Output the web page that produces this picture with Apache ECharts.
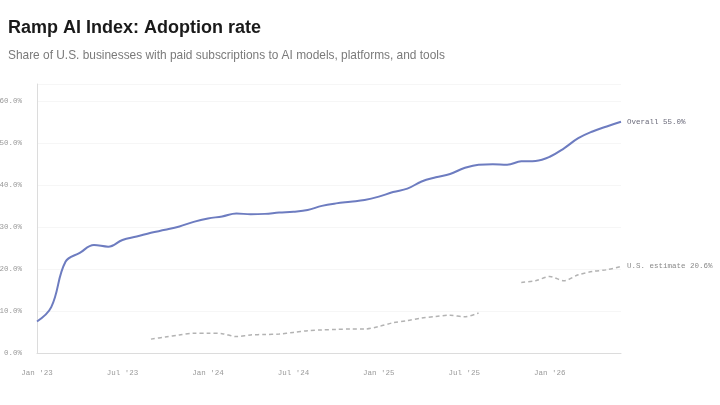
<!DOCTYPE html>
<html>
<head>
<meta charset="utf-8">
<script src="https://cdn.jsdelivr.net/npm/echarts@6/dist/echarts.min.js"></script>
<style>
  html, body { margin: 0; padding: 0; background: #fff; }
  #main { width: 720px; height: 405px; }
</style>
</head>
<body>
<div id="main"></div>
<script>
var months = [
	"Jan '23","Feb '23","Mar '23","Apr '23","May '23","Jun '23","Jul '23","Aug '23","Sep '23","Oct '23","Nov '23","Dec '23",
	"Jan '24","Feb '24","Mar '24","Apr '24","May '24","Jun '24","Jul '24","Aug '24","Sep '24","Oct '24","Nov '24","Dec '24",
	"Jan '25","Feb '25","Mar '25","Apr '25","May '25","Jun '25","Jul '25","Aug '25","Sep '25","Oct '25","Nov '25","Dec '25",
	"Jan '26","Feb '26","Mar '26","Apr '26","May '26","Jun '26"
];
// overall adoption, % of businesses
var overall = [
	7.5, 10.9, 21.7, 23.8, 25.7, 25.3, 26.9, 27.7, 28.6, 29.3, 30.1, 31.2,
	32.0, 32.5, 33.2, 33.0, 33.1, 33.4, 33.6, 34.0, 35.0, 35.6, 36.0, 36.4,
	37.2, 38.3, 39.1, 40.8, 41.8, 42.6, 44.0, 44.8, 44.9, 44.8, 45.6, 45.7,
	46.7, 48.7, 51.1, 52.7, 53.9, 55.0
];
// U.S. estimate (dashed), gaps where no figure
var usEstimate = [
	null, null, null, null, null, null, null, null, 3.3, 3.8, 4.3, 4.7,
	4.7, 4.6, 3.9, 4.3, 4.4, 4.5, 4.9, 5.3, 5.5, 5.6, 5.7, 5.7,
	6.3, 7.2, 7.7, 8.3, 8.7, 9.0, 8.6, 9.5, null, null, 16.8, 17.2,
	18.2, 17.2, 18.6, 19.4, 19.8, 20.6
];
var yTicks = [0, 10, 20, 30, 40, 50, 60];

var myChart = echarts.init(document.getElementById('main'));
var mono = "'Liberation Mono', 'DejaVu Sans Mono', monospace";

var option = {
	backgroundColor: '#fff',
	animation: false,
	title: [
		{
			text: 'Ramp AI Index: Adoption rate',
			left: 3, top: 14,
			textStyle: { fontFamily: 'Liberation Sans', fontWeight: 'bold', fontSize: 18, color: '#1a1a1a' }
		},
		{
			text: 'Share of U.S. businesses with paid subscriptions to AI models, platforms, and tools',
			left: 3, top: 45,
			textStyle: { fontFamily: 'Liberation Sans', fontWeight: 'normal', fontSize: 11.9, color: '#7a7a7a' }
		}
	],
	grid: { left: 37, right: 99, top: 84, bottom: 52, containLabel: false, outerBoundsMode: 'none' },
	xAxis: {
		type: 'category',
		data: months,
		boundaryGap: false,
		axisLine: { lineStyle: { color: '#dcdcdc' } },
		axisTick: { show: false },
		axisLabel: {
			interval: function (i) { return i % 6 === 0; },
			margin: 16,
			fontFamily: mono, fontSize: 7.5, color: '#9a9a9a'
		},
		splitLine: { show: false }
	},
	yAxis: {
		type: 'value',
		min: yTicks[0], max: 64, interval: 10,
		axisLine: { show: true, lineStyle: { color: '#dcdcdc' } },
		axisTick: { show: false },
		axisLabel: {
			showMaxLabel: false,
			margin: 15,
			fontFamily: mono, fontSize: 7.5, color: '#9a9a9a',
			formatter: function (v) { return yTicks.indexOf(v) >= 0 ? v.toFixed(1) + '%' : ''; }
		},
		splitLine: { show: true, lineStyle: { color: '#f6f6f6' } }
	},
	series: [
		{
			name: 'Overall',
			type: 'line',
			data: overall,
			smooth: 0.4,
			showSymbol: false,
			lineStyle: { color: '#6d7cc0', width: 2 },
			endLabel: {
				show: true, distance: 6,
				fontFamily: mono, fontSize: 7.5, color: '#6a6a7a',
				formatter: function (p) { return 'Overall ' + p.value.toFixed(1) + '%'; }
			}
		},
		{
			name: 'U.S. estimate',
			type: 'line',
			data: usEstimate,
			smooth: 0.3,
			connectNulls: false,
			showSymbol: false,
			lineStyle: { color: '#b3b3b3', width: 1.5, type: [4, 3] },
			endLabel: {
				show: true, distance: 6,
				fontFamily: mono, fontSize: 7.5, color: '#8a8a8a',
				formatter: function (p) { return 'U.S. estimate ' + p.value.toFixed(1) + '%'; }
			}
		}
	]
};
myChart.setOption(option);
</script>
</body>
</html>
